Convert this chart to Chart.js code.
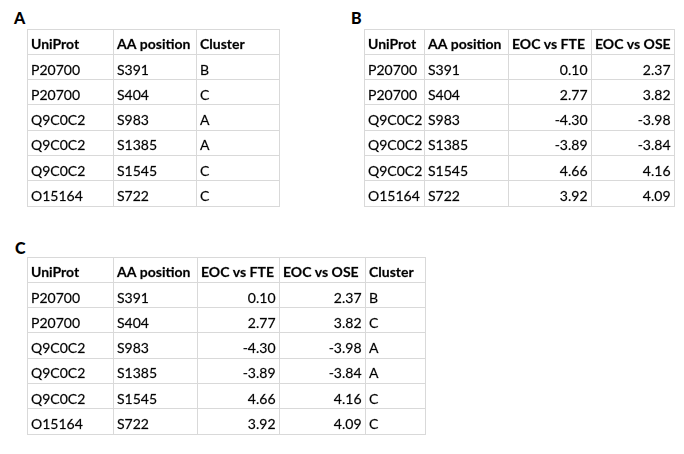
<!DOCTYPE html>
<html>
<head>
<meta charset="utf-8">
<script src="https://cdn.jsdelivr.net/npm/chart.js@4"></script>
<style>
  body { margin: 0; background: #fff; width: 684px; height: 454px; position: relative; overflow: hidden; font-family: Lato, "Open Sans", sans-serif; }
  .panel { position: absolute; }
  .tag { position: absolute; font-weight: 900; font-size: 16px; line-height: 16px; color: #000; }
</style>
</head>
<body>
<div class="tag" style="left:14px;top:10px">A</div>
<div class="tag" style="left:351px;top:10px">B</div>
<div class="tag" style="left:15px;top:240px">C</div>
<div class="panel" id="pA"><canvas id="tA"></canvas></div>
<div class="panel" id="pB"><canvas id="tB"></canvas></div>
<div class="panel" id="pC"><canvas id="tC"></canvas></div>
<script>
// table data
const uniprot = ['P20700', 'P20700', 'Q9C0C2', 'Q9C0C2', 'Q9C0C2', 'O15164'];
const aaPosition = ['S391', 'S404', 'S983', 'S1385', 'S1545', 'S722'];
const eocVsFte = [0.10, 2.77, -4.30, -3.89, 4.66, 3.92];
const eocVsOse = [2.37, 3.82, -3.98, -3.84, 4.16, 4.09];
const cluster = ['B', 'C', 'A', 'A', 'C', 'C'];

const columns = {
  uniprot: { head: 'UniProt', values: uniprot, num: false },
  aa: { head: 'AA position', values: aaPosition, num: false },
  fte: { head: 'EOC vs FTE', values: eocVsFte, num: true },
  ose: { head: 'EOC vs OSE', values: eocVsOse, num: true },
  cluster: { head: 'Cluster', values: cluster, num: false }
};

// layout: which columns, their widths and where each table sits
const panels = [
  { id: 'A', keys: ['uniprot', 'aa', 'cluster'], widths: [86, 83, 83], left: 27, top: 29, rowH: 25.35 },
  { id: 'B', keys: ['uniprot', 'aa', 'fte', 'ose'], widths: [60, 84, 83, 83], left: 364, top: 29, rowH: 25.35 },
  { id: 'C', keys: ['uniprot', 'aa', 'fte', 'ose', 'cluster'], widths: [86, 84, 82, 86, 60], left: 27, top: 257, rowH: 25.25 }
];

const PAD = 5;
const lineCol = '#d9d9d9';
const font = 'Lato, "Open Sans", sans-serif';

const cellText = {
  id: 'cellText',
  afterDraw(chart, args, opts) {
    const { ctx } = chart;
    const xs = chart.scales.x, ys = chart.scales.y;
    const edges = opts.edges;
    ctx.save();
    ctx.fillStyle = '#000';
    ctx.strokeStyle = 'rgba(0,0,0,0.55)';
    ctx.lineWidth = 0.35;
    ctx.textBaseline = 'alphabetic';
    opts.keys.forEach((k, c) => {
      const col = columns[k];
      const rows = [col.head].concat(col.values.map(v => col.num ? v.toFixed(2) : v));
      rows.forEach((t, r) => {
        ctx.font = (r === 0 ? 'bold ' : '') + '14px ' + font;
        const yb = ys.getPixelForValue(r + 1) - 5;
        let x;
        if (col.num && r > 0) {
          ctx.textAlign = 'right';
          x = xs.getPixelForValue(edges[c + 1]) - 3.5;
        } else {
          ctx.textAlign = 'left';
          x = xs.getPixelForValue(edges[c]) + 4;
        }
        ctx.fillText(t, x, yb);
        ctx.strokeText(t, x, yb);
      });
    });
    ctx.restore();
  }
};

panels.forEach(p => {
  const edges = [0];
  p.widths.forEach(w => edges.push(edges[edges.length - 1] + w));
  const total = edges[edges.length - 1];
  const nRows = uniprot.length + 1;
  const rowEdges = Array.from({ length: nRows + 1 }, (_, i) => i);
  const W = total + 2 * PAD;
  const H = Math.round(nRows * p.rowH) + 2 * PAD;

  const holder = document.getElementById('p' + p.id);
  holder.style.left = (p.left - PAD) + 'px';
  holder.style.top = (p.top - PAD) + 'px';
  const canvas = document.getElementById('t' + p.id);
  canvas.width = W;
  canvas.height = H;

  new Chart(canvas, {
    type: 'scatter',
    data: { datasets: [] },
    options: {
      responsive: false,
      animation: false,
      events: [],
      layout: { padding: PAD },
      plugins: {
        legend: { display: false },
        tooltip: { enabled: false },
        cellText: { keys: p.keys, edges: edges }
      },
      scales: {
        x: {
          type: 'linear', min: 0, max: total,
          afterBuildTicks: s => { s.ticks = edges.map(v => ({ value: v })); },
          ticks: { display: false },
          grid: { color: lineCol, lineWidth: 1, drawTicks: false },
          border: { color: lineCol }
        },
        y: {
          type: 'linear', min: 0, max: nRows, reverse: true,
          afterBuildTicks: s => { s.ticks = rowEdges.map(v => ({ value: v })); },
          ticks: { display: false },
          grid: { color: lineCol, lineWidth: 1, drawTicks: false },
          border: { color: lineCol }
        }
      }
    },
    plugins: [cellText]
  });
});
</script>
</body>
</html>
